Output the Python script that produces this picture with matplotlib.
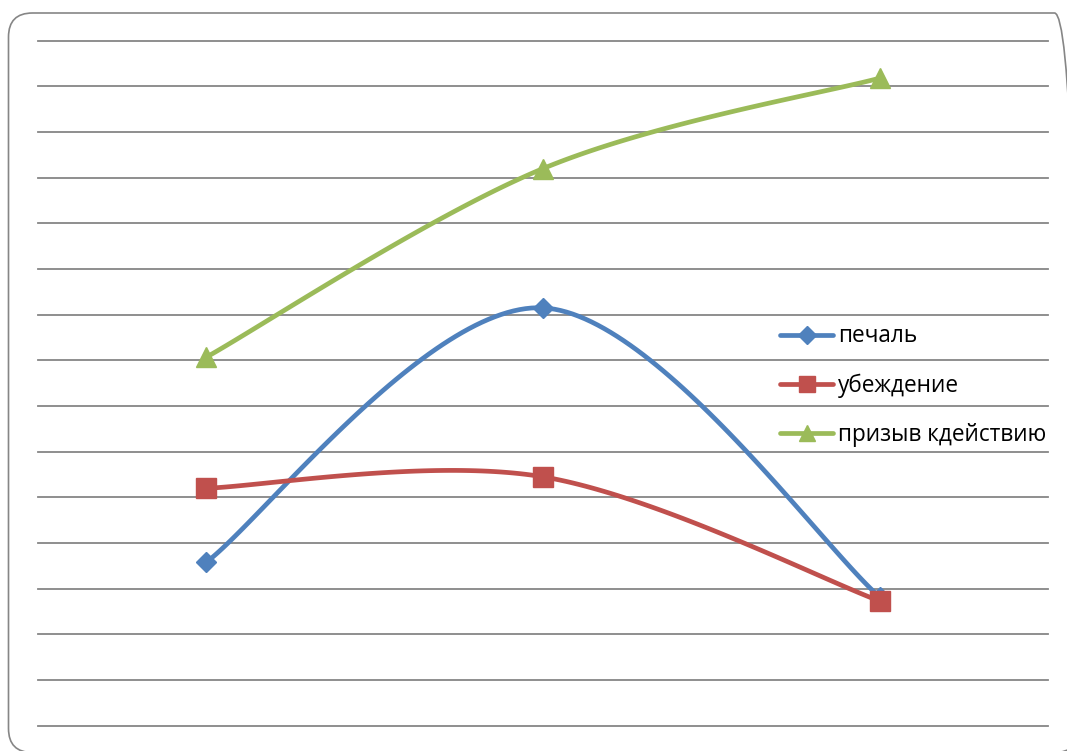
import numpy as np
import matplotlib
matplotlib.use("Agg")
import matplotlib.pyplot as plt
from matplotlib.patches import FancyBboxPatch
from matplotlib.transforms import IdentityTransform

categories = [1, 2, 3]
pechal = [3.58, 9.15, 2.82]
ubezhdenie = [5.20, 5.45, 2.73]
prizyv = [8.07, 12.20, 14.18]
labels = ["печаль", "убеждение", "призыв кдействию"]
colors = ["#4F81BD", "#C0504D", "#9BBB59"]
markers = ["D", "s", "^"]


def smooth(xs, ys, n=60):
    """Excel-style smoothed line (Catmull-Rom Bezier through the points)."""
    P = np.column_stack([xs, ys]).astype(float)
    out = []
    m = len(P)
    for i in range(m - 1):
        p0 = P[max(i - 1, 0)]
        p1 = P[i]
        p2 = P[i + 1]
        p3 = P[min(i + 2, m - 1)]
        c1 = p1 + (p2 - p0) / 6.0
        c2 = p2 - (p3 - p1) / 6.0
        t = np.linspace(0, 1, n)[:, None]
        seg = ((1 - t) ** 3) * p1 + 3 * ((1 - t) ** 2) * t * c1 + 3 * (1 - t) * t ** 2 * c2 + t ** 3 * p2
        out.append(seg if i == 0 else seg[1:])
    S = np.vstack(out)
    return S[:, 0], S[:, 1]


W, H = 1067, 751
fig = plt.figure(figsize=(W / 100, H / 100), dpi=100)
plt.rcParams["font.family"] = ["Open Sans", "DejaVu Sans"]

# rounded chart border (pixel coordinates)
border = FancyBboxPatch((8.5, -1.5), 1070, 739.5,
                        boxstyle="round,pad=0,rounding_size=24",
                        transform=IdentityTransform(), fill=False,
                        edgecolor="#868686", linewidth=1.2)
fig.patches.append(border)

left, right = 38 / W, 1048 / W
top, bottom = 1 - 40.7 / H, 1 - 725.7 / H
ax = fig.add_axes([left, bottom, right - left, top - bottom])
ax.set_xlim(0.5, 3.5)
ax.set_ylim(0, 15)
ax.set_yticks(np.arange(0, 16, 1))
ax.yaxis.grid(True, color="#868686", linewidth=1.3)
for gl in ax.get_ygridlines():
    gl.set_clip_on(False)
ax.set_axisbelow(True)
ax.tick_params(left=False, bottom=False, labelleft=False, labelbottom=False)
for s in ax.spines.values():
    s.set_visible(False)
ax.patch.set_alpha(0)

for ys, lab, c, mk in zip([pechal, ubezhdenie, prizyv], labels, colors, markers):
    sx, sy = smooth(categories, ys)
    ax.plot(sx, sy, color=c, linewidth=3.4, solid_capstyle="round", zorder=3)
    ms = 10.5 if mk == "D" else 14
    ax.plot(categories, ys, linestyle="none", marker=mk, markersize=ms, color=c, zorder=4)
    ax.plot([], [], color=c, linewidth=3.4, marker=mk, markersize=ms * 0.85,
            solid_capstyle="round", label=lab)

leg = ax.legend(loc="upper left", bbox_to_anchor=(780 / W, 1 - 324.5 / H),
                bbox_transform=fig.transFigure, frameon=False, fontsize=16.3,
                handlelength=2.35, handletextpad=0.22, labelspacing=1.11,
                numpoints=1, borderpad=0, borderaxespad=0)

fig.savefig("out.png", dpi=100)
